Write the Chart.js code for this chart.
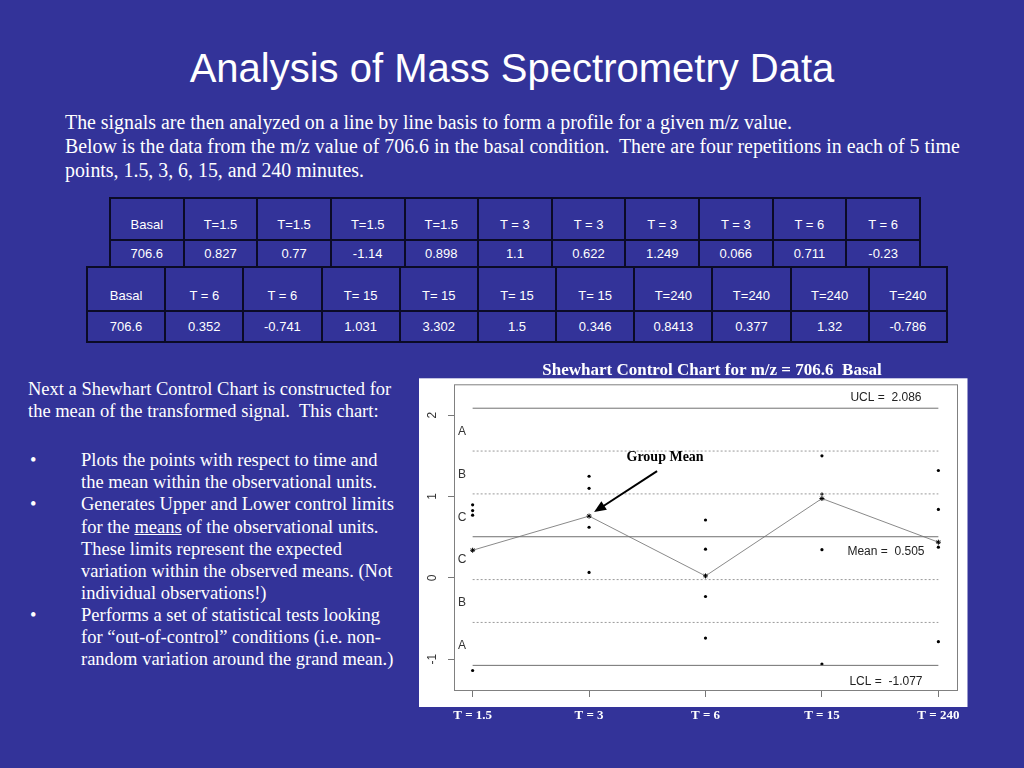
<!DOCTYPE html>
<html>
<head>
<meta charset="utf-8">
<script src="https://cdn.jsdelivr.net/npm/chart.js@4"></script>
<style>
  body { margin: 0; width: 1024px; height: 768px; overflow: hidden; background: #333399; position: relative; color: #fff; }
  .title { position: absolute; left: 0; width: 1024px; top: 45px; text-align: center; font: 40px/46px "Liberation Sans", Arial, sans-serif; }
  .para { position: absolute; left: 65px; font: 20px/24px "Liberation Serif", "Times New Roman", serif; white-space: nowrap; transform: scaleX(0.993); transform-origin: left; }
  .side { position: absolute; font: 18.5px/22.2px "Liberation Serif", "Times New Roman", serif; white-space: nowrap; }
  table { position: absolute; border-collapse: collapse; table-layout: fixed; font: 13px/15px "Liberation Sans", Arial, sans-serif; color: #fff; }
  td { border: 2px solid #0b0b26; text-align: center; padding: 0; }
  #tbl1 { left: 109px; top: 197px; width: 812px; }
  #tbl1 tr.h td { height: 33px; vertical-align: bottom; padding-bottom: 7px; }
  #tbl1 tr.v td { height: 25px; }
  #tbl2 { left: 86px; top: 266px; width: 862px; }
  #tbl2 tr.h td { height: 35px; vertical-align: bottom; padding-bottom: 7px; }
  #tbl2 tr.v td { height: 29px; }
  #chart { position: absolute; left: 419px; top: 356px; }
</style>
</head>
<body>
<div class="title">Analysis of Mass Spectrometry Data</div>
<div class="para" style="top:110px">The signals are then analyzed on a line by line basis to form a profile for a given m/z value.</div>
<div class="para" style="top:134px">Below is the data from the m/z value of 706.6 in the basal condition.&nbsp; There are four repetitions in each of 5 time</div>
<div class="para" style="top:158px">points, 1.5, 3, 6, 15, and 240 minutes.</div>

<table id="tbl1"><tr class="h"></tr><tr class="v"></tr></table>
<table id="tbl2"><tr class="h"></tr><tr class="v"></tr></table>

<div id="side"></div>

<canvas id="chart" width="585" height="374"></canvas>

<script>
// time point groups on the x axis
const groupLabels = ['T = 1.5', 'T = 3', 'T = 6', 'T = 15', 'T = 240'];

// individual (transformed) observations per time point, as plotted
const obsT1_5 = [0.898, 0.827, 0.77, -1.14];
const obsT3 = [1.249, 1.1, 0.622, 0.066];
const obsT6 = [0.711, 0.352, -0.23, -0.741];
const obsT15 = [1.5, 1.031, 0.346, -1.06];
const obsT240 = [1.32, 0.8413, 0.377, -0.786];

// group means (the "*" line)
const groupMeans = [0.339, 0.759, 0.023, 0.975, 0.438];

// control limits and zone boundaries
const ucl = 2.086;
const centerLine = 0.505;
const lcl = -1.077;
const zoneLines = [1.559, 1.032, -0.022, -0.549];
const zoneLetters = ['A', 'B', 'C', 'C', 'B', 'A'];
const yTicks = [2, 1, 0, -1];

const chartTitle = 'Shewhart Control Chart for m/z = 706.6  Basal';

// table contents
const table1Head = ['Basal', 'T=1.5', 'T=1.5', 'T=1.5', 'T=1.5', 'T = 3', 'T = 3', 'T = 3', 'T = 3', 'T = 6', 'T = 6'];
const table1Vals = ['706.6', '0.827', '0.77', '-1.14', '0.898', '1.1', '0.622', '1.249', '0.066', '0.711', '-0.23'];
const table2Head = ['Basal', 'T = 6', 'T = 6', 'T= 15', 'T= 15', 'T= 15', 'T= 15', 'T=240', 'T=240', 'T=240', 'T=240'];
const table2Vals = ['706.6', '0.352', '-0.741', '1.031', '3.302', '1.5', '0.346', '0.8413', '0.377', '1.32', '-0.786'];

function fillTable(id, head, vals) {
    const rows = document.querySelectorAll('#' + id + ' tr');
    rows[0].innerHTML = head.map(t => `<td>${t}</td>`).join('');
    rows[1].innerHTML = vals.map(t => `<td>${t}</td>`).join('');
}
fillTable('tbl1', table1Head, table1Vals);
fillTable('tbl2', table2Head, table2Vals);

// left column text, one entry per printed line
const sideLines = [
    [395, 28, 'Next a Shewhart Control Chart is constructed for'],
    [417.3, 28, 'the mean of the transformed signal.&nbsp; This chart:'],
    [466.5, 81, 'Plots the points with respect to time and', true],
    [488.6, 81, 'the mean within the observational units.'],
    [510.7, 81, 'Generates Upper and Lower control limits', true],
    [532.8, 81, 'for the <u>means</u> of the observational units.'],
    [554.9, 81, 'These limits represent the expected'],
    [577, 81, 'variation within the observed means. (Not'],
    [599.1, 81, 'individual observations!)'],
    [621.2, 81, 'Performs a set of statistical tests looking', true],
    [643.3, 81, 'for \u201cout-of-control\u201d conditions (i.e. non-'],
    [665.4, 81, 'random variation around the grand mean.)']
];
document.getElementById('side').innerHTML = sideLines.map(l => {
    const top = l[0] - 17.3;
    let s = `<div class="side" style="left:${l[1]}px;top:${top}px">${l[2]}</div>`;
    if (l[3]) s += `<div class="side" style="left:30px;top:${top}px">\u2022</div>`;
    return s;
}).join('');

const obsGroups = [obsT1_5, obsT3, obsT6, obsT15, obsT240];
const obsPoints = [];
obsGroups.forEach((g, i) => g.forEach(v => obsPoints.push({ x: i, y: v })));

const lastX = groupLabels.length - 1;
function hLine(v, dashed) {
    return {
        data: [{ x: 0, y: v }, { x: lastX, y: v }],
        showLine: true,
        borderColor: dashed ? '#9a9a9a' : '#707070',
        borderWidth: 1,
        borderDash: dashed ? [2, 2] : [],
        pointRadius: 0
    };
}

const decor = {
    id: 'decor',
    beforeDraw(chart) {
        const c = chart.ctx, a = chart.chartArea;
        c.save();
        c.fillStyle = '#ffffff';
        c.fillRect(a.left - 35, a.top - 6, a.right - a.left + 45.5, a.bottom - a.top + 23);
        c.restore();
    },
    afterDatasetsDraw(chart) {
        const c = chart.ctx, a = chart.chartArea;
        const xs = chart.scales.x, ys = chart.scales.y;
        c.save();
        // plot box
        c.strokeStyle = '#808080';
        c.lineWidth = 1;
        c.strokeRect(a.left + 0.5, a.top + 0.5, a.right - a.left, a.bottom - a.top);

        // chart title above the white panel
        c.fillStyle = '#fff';
        c.textAlign = 'center';
        c.textBaseline = 'alphabetic';
        c.font = 'bold 17px "Liberation Serif", "Times New Roman", serif';
        c.fillText(chartTitle, (a.left + a.right) / 2 + 6.5, a.top - 9.5);

        // rotated y tick labels
        c.fillStyle = '#333';
        c.font = '12px "Liberation Sans", Arial, sans-serif';
        c.textBaseline = 'middle';
        yTicks.forEach(v => {
            c.save();
            c.translate(a.left - 21.5, ys.getPixelForValue(v));
            c.rotate(-Math.PI / 2);
            c.fillText(String(v), 0, 0);
            c.restore();
        });

        // zone letters
        const bounds = [ucl, zoneLines[0], zoneLines[1], centerLine, zoneLines[2], zoneLines[3], lcl];
        zoneLetters.forEach((z, i) => {
            const y = (ys.getPixelForValue(bounds[i]) + ys.getPixelForValue(bounds[i + 1])) / 2 + 2;
            c.fillText(z, a.left + 8, y);
        });

        // limit labels
        const lx = xs.getPixelForValue(3.55);
        c.fillStyle = '#222';
        c.fillText('UCL =  ' + ucl.toFixed(3), lx, ys.getPixelForValue(ucl) - 11);
        c.fillText('Mean =  ' + centerLine.toFixed(3), lx, ys.getPixelForValue(centerLine) + 15);
        c.fillText('LCL =  ' + lcl.toFixed(3), lx, ys.getPixelForValue(lcl) + 16);

        // "Group Mean" arrow pointing to the T = 3 mean
        const tx = xs.getPixelForValue(1) + 5, ty = ys.getPixelForValue(groupMeans[1]) - 4;
        const fx = tx + 63, fy = ty - 41;
        c.strokeStyle = '#000';
        c.fillStyle = '#000';
        c.lineWidth = 2;
        const ang = Math.atan2(ty - fy, tx - fx);
        c.beginPath();
        c.moveTo(fx, fy);
        c.lineTo(tx - 8 * Math.cos(ang), ty - 8 * Math.sin(ang));
        c.stroke();
        c.beginPath();
        c.moveTo(tx, ty);
        c.lineTo(tx - 12 * Math.cos(ang) + 5 * Math.sin(ang), ty - 12 * Math.sin(ang) - 5 * Math.cos(ang));
        c.lineTo(tx - 12 * Math.cos(ang) - 5 * Math.sin(ang), ty - 12 * Math.sin(ang) + 5 * Math.cos(ang));
        c.closePath();
        c.fill();
        c.font = 'bold 14px "Liberation Serif", "Times New Roman", serif';
        c.fillText('Group Mean', tx + 71, ty - 55);
        c.restore();
    }
};

new Chart(document.getElementById('chart'), {
    type: 'scatter',
    data: {
        datasets: [
            hLine(ucl, false),
            hLine(lcl, false),
            hLine(centerLine, false),
            ...zoneLines.map(v => hLine(v, true)),
            {
                data: groupMeans.map((m, i) => ({ x: i, y: m })),
                showLine: true,
                borderColor: '#8a8a8a',
                borderWidth: 1,
                pointStyle: 'star',
                pointRadius: 2.5,
                pointBorderColor: '#000',
                pointBorderWidth: 1
            },
            {
                data: obsPoints,
                pointRadius: 1.6,
                pointBackgroundColor: '#000',
                pointBorderWidth: 0
            }
        ]
    },
    options: {
        responsive: false,
        devicePixelRatio: 1,
        animation: false,
        layout: { padding: { left: 0, right: 47, top: 28.3, bottom: 0 } },
        plugins: {
            legend: { display: false },
            tooltip: { enabled: false },
            title: { display: false }
        },
        scales: {
            x: {
                type: 'linear',
                min: -0.16,
                max: lastX + 0.16,
                afterBuildTicks: s => { s.ticks = groupLabels.map((l, i) => ({ value: i })); },
                afterFit: s => { s.height = 40; },
                ticks: {
                    callback: v => groupLabels[v],
                    color: '#fff',
                    font: { family: '"Liberation Serif", "Times New Roman", serif', weight: 'bold', size: 13 },
                    padding: 10.5,
                    maxRotation: 0,
                    autoSkip: false
                },
                grid: { drawOnChartArea: false, drawTicks: true, tickLength: 7, color: '#777' },
                border: { display: false }
            },
            y: {
                min: -1.38,
                max: 2.38,
                afterBuildTicks: s => { s.ticks = yTicks.map(v => ({ value: v })); },
                afterFit: s => { s.width = 35; },
                ticks: { color: 'rgba(0,0,0,0)' },
                grid: { drawOnChartArea: false, drawTicks: true, tickLength: 6, color: '#777' },
                border: { display: false }
            }
        }
    },
    plugins: [decor]
});
</script>
</body>
</html>
